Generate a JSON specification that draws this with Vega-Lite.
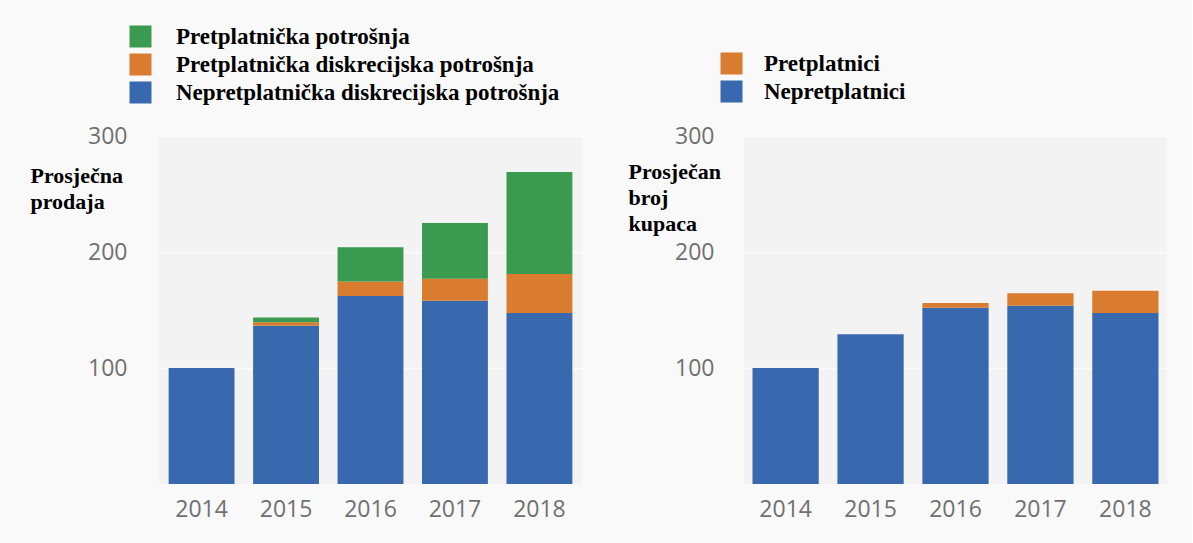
{
  "$schema": "https://vega.github.io/schema/vega-lite/v6.json",
  "background": "#f9f9f9",
  "padding": {"left": 30, "top": 25, "right": 25, "bottom": 25},
  "autosize": {"type": "pad"},
  "spacing": 162,
  "bounds": "flush",
  "resolve": {"scale": {"color": "independent"}},
  "config": {
    "view": {"fill": "#f3f3f3", "stroke": null},
    "axis": {
      "labelFont": "Open Sans",
      "labelFontSize": 23,
      "labelColor": "#707070",
      "domain": false,
      "ticks": false,
      "gridColor": "#fbfbfb",
      "gridWidth": 2,
      "titleFont": "Liberation Serif",
      "titleFontWeight": "bold",
      "titleFontSize": 22,
      "titleColor": "#000000"
    },
    "legend": {
      "labelFont": "Liberation Serif",
      "labelFontWeight": "bold",
      "labelFontSize": 23,
      "labelColor": "#000000",
      "labelLimit": 0,
      "symbolType": "square",
      "symbolSize": 484,
      "symbolStrokeWidth": 0,
      "padding": 0,
      "title": null
    }
  },
  "datasets": {
    "prodaja": [
      {"godina": "2014", "kategorija": "Nepretplatnička diskrecijska potrošnja", "vrijednost": 100, "red": 1},
      {"godina": "2015", "kategorija": "Nepretplatnička diskrecijska potrošnja", "vrijednost": 136.5, "red": 1},
      {"godina": "2015", "kategorija": "Pretplatnička diskrecijska potrošnja", "vrijednost": 3, "red": 2},
      {"godina": "2015", "kategorija": "Pretplatnička potrošnja", "vrijednost": 4, "red": 3},
      {"godina": "2016", "kategorija": "Nepretplatnička diskrecijska potrošnja", "vrijednost": 162, "red": 1},
      {"godina": "2016", "kategorija": "Pretplatnička diskrecijska potrošnja", "vrijednost": 12.5, "red": 2},
      {"godina": "2016", "kategorija": "Pretplatnička potrošnja", "vrijednost": 29.5, "red": 3},
      {"godina": "2017", "kategorija": "Nepretplatnička diskrecijska potrošnja", "vrijednost": 158, "red": 1},
      {"godina": "2017", "kategorija": "Pretplatnička diskrecijska potrošnja", "vrijednost": 19, "red": 2},
      {"godina": "2017", "kategorija": "Pretplatnička potrošnja", "vrijednost": 48, "red": 3},
      {"godina": "2018", "kategorija": "Nepretplatnička diskrecijska potrošnja", "vrijednost": 147.5, "red": 1},
      {"godina": "2018", "kategorija": "Pretplatnička diskrecijska potrošnja", "vrijednost": 33.5, "red": 2},
      {"godina": "2018", "kategorija": "Pretplatnička potrošnja", "vrijednost": 88, "red": 3}
    ],
    "kupci": [
      {"godina": "2014", "kategorija": "Nepretplatnici", "vrijednost": 100, "red": 1},
      {"godina": "2015", "kategorija": "Nepretplatnici", "vrijednost": 129, "red": 1},
      {"godina": "2016", "kategorija": "Nepretplatnici", "vrijednost": 152, "red": 1},
      {"godina": "2016", "kategorija": "Pretplatnici", "vrijednost": 4, "red": 2},
      {"godina": "2017", "kategorija": "Nepretplatnici", "vrijednost": 153.7, "red": 1},
      {"godina": "2017", "kategorija": "Pretplatnici", "vrijednost": 10.7, "red": 2},
      {"godina": "2018", "kategorija": "Nepretplatnici", "vrijednost": 147.5, "red": 1},
      {"godina": "2018", "kategorija": "Pretplatnici", "vrijednost": 19, "red": 2}
    ]
  },
  "hconcat": [
    {
      "width": 423,
      "height": 348,
      "data": {"name": "prodaja"},
      "mark": {"type": "bar"},
      "encoding": {
        "x": {
          "field": "godina", "type": "ordinal",
          "scale": {"paddingInner": 0.22, "paddingOuter": 0.114},
          "axis": {"title": null, "labelAngle": 0, "labelPadding": 14, "grid": false}
        },
        "y": {
          "field": "vrijednost", "type": "quantitative", "stack": "zero",
          "scale": {"domain": [0, 300]},
          "axis": {
            "values": [100, 200, 300],
            "labelPadding": 32,
            "title": ["Prosječna", "prodaja"],
            "titleAngle": 0,
            "titleAlign": "left",
            "titleBaseline": "alphabetic",
            "titleLineHeight": 26,
            "titleX": -129,
            "titleY": 46
          }
        },
        "color": {
          "field": "kategorija", "type": "nominal",
          "scale": {
            "domain": ["Pretplatnička potrošnja", "Pretplatnička diskrecijska potrošnja", "Nepretplatnička diskrecijska potrošnja"],
            "range": ["#3a9a50", "#d97c30", "#3869ae"]
          },
          "legend": {"orient": "none", "legendX": -30, "legendY": -111, "labelOffset": 24, "rowPadding": 4}
        },
        "order": {"field": "red", "type": "quantitative"}
      }
    },
    {
      "width": 423,
      "height": 348,
      "data": {"name": "kupci"},
      "mark": {"type": "bar"},
      "encoding": {
        "x": {
          "field": "godina", "type": "ordinal",
          "scale": {"paddingInner": 0.22, "paddingOuter": 0.1},
          "axis": {"title": null, "labelAngle": 0, "labelPadding": 14, "grid": false}
        },
        "y": {
          "field": "vrijednost", "type": "quantitative", "stack": "zero",
          "scale": {"domain": [0, 300]},
          "axis": {
            "values": [100, 200, 300],
            "labelPadding": 30,
            "title": ["Prosječan", "broj", "kupaca"],
            "titleAngle": 0,
            "titleAlign": "left",
            "titleBaseline": "alphabetic",
            "titleLineHeight": 26,
            "titleX": -116,
            "titleY": 42
          }
        },
        "color": {
          "field": "kategorija", "type": "nominal",
          "scale": {
            "domain": ["Pretplatnici", "Nepretplatnici"],
            "range": ["#d97c30", "#3869ae"]
          },
          "legend": {"orient": "none", "legendX": -24, "legendY": -84, "labelOffset": 21, "rowPadding": 4}
        },
        "order": {"field": "red", "type": "quantitative"}
      }
    }
  ]
}
